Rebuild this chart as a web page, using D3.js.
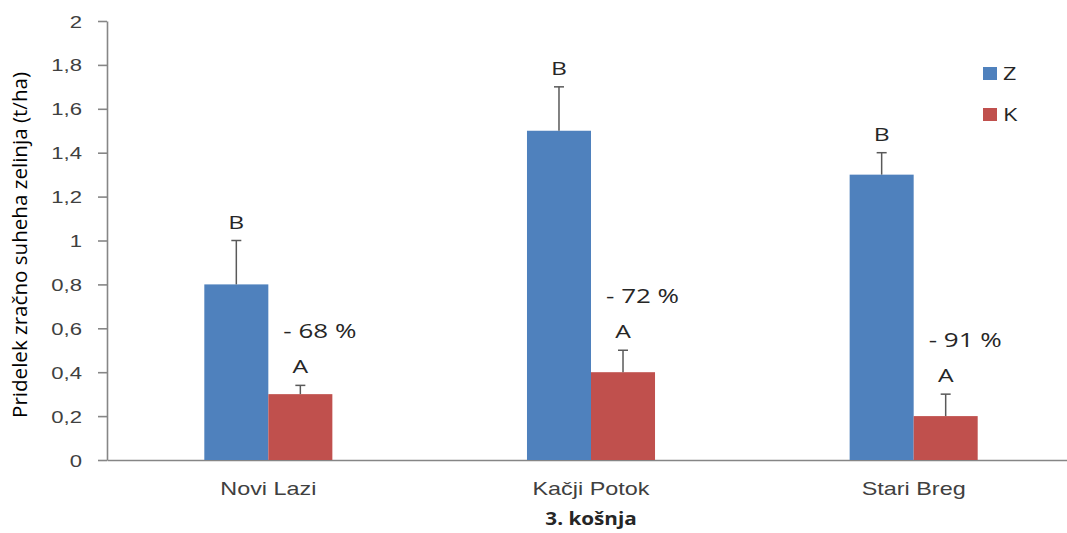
<!DOCTYPE html>
<html>
<head>
<meta charset="utf-8">
<script src="https://cdn.jsdelivr.net/npm/d3@7/dist/d3.min.js"></script>
<style>
  html, body { margin: 0; padding: 0; background: #fff; }
  svg { display: block; font-family: "Open Sans", "Liberation Sans", sans-serif; }
</style>
</head>
<body>
<svg id="chart" width="1067" height="533"></svg>
<script>
// Dry matter yield, 3rd cut, per location
const categories = ["Novi Lazi", "Kačji Potok", "Stari Breg"];
const seriesNames = ["Z", "K"];
const valuesZ = [0.8, 1.5, 1.3];
const valuesK = [0.3, 0.4, 0.2];
const errorsZ = [0.2, 0.2, 0.1];
const errorsK = [0.04, 0.1, 0.1];
const lettersZ = ["B", "B", "B"];
const lettersK = ["A", "A", "A"];
const reductionLabels = ["- 68 %", "- 72 %", "- 91 %"];
const yTicks = [0, 0.2, 0.4, 0.6, 0.8, 1, 1.2, 1.4, 1.6, 1.8, 2];
const colors = { Z: "#4F81BD", K: "#C0504D" };

// Text is drawn slightly widened (horizontal stretch) to get the wide look of the labels
const SX = 1.3;

const svg = d3.select("#chart");
const plot = { left: 107, right: 1075, top: 21, bottom: 460 };

const y = d3.scaleLinear().domain([0, 2]).range([plot.bottom, plot.top]);
const x0 = d3.scaleBand().domain(categories).range([plot.left, plot.right]).padding(0);
const x1 = d3.scaleBand().domain(seriesNames).range([0, x0.bandwidth()])
  .paddingInner(0).paddingOuter(1.52);

const fmt = d => String(d).replace(".", ",");

// helper: stretched text with its anchor at (x, y)
function label(parent, x, yy, txt, opts = {}) {
  return parent.append("text")
    .attr("transform", `translate(${x},${yy}) scale(${opts.sx || SX},1)`)
    .attr("text-anchor", opts.anchor || "middle")
    .attr("fill", opts.fill || "#262626")
    .style("font-size", (opts.size || 18) + "px")
    .style("font-weight", opts.weight || "normal")
    .text(txt);
}

// Y axis
const yAxis = svg.append("g")
  .attr("transform", `translate(${plot.left},0)`)
  .call(d3.axisLeft(y).tickValues(yTicks).tickFormat(fmt).tickSize(9).tickSizeOuter(0));
yAxis.select(".domain").attr("stroke", "#868686").attr("stroke-width", 1.6);
yAxis.selectAll(".tick line").attr("stroke", "#868686").attr("stroke-width", 1.6);
yAxis.selectAll(".tick text")
  .attr("x", null).attr("dy", null)
  .attr("transform", "translate(-25,6) scale(" + SX + ",1)")
  .attr("fill", "#404040").style("font-size", "17px");

// X axis
const xAxis = svg.append("g")
  .attr("transform", `translate(0,${plot.bottom})`)
  .call(d3.axisBottom(x0).tickSize(0).tickSizeOuter(0));
xAxis.select(".domain").attr("stroke", "#868686").attr("stroke-width", 1.6);
xAxis.selectAll(".tick text")
  .attr("y", null).attr("dy", null)
  .attr("transform", "translate(0,35) scale(" + SX + ",1)")
  .attr("fill", "#404040").style("font-size", "18px");

// Bars
const rows = categories.map((c, i) => ({
  cat: c,
  items: [
    { s: "Z", v: valuesZ[i], e: errorsZ[i], letter: lettersZ[i] },
    { s: "K", v: valuesK[i], e: errorsK[i], letter: lettersK[i] }
  ],
  reduction: reductionLabels[i]
}));

const groups = svg.append("g").selectAll("g").data(rows).join("g")
  .attr("transform", d => `translate(${x0(d.cat)},0)`);

groups.selectAll("rect").data(d => d.items).join("rect")
  .attr("x", d => x1(d.s))
  .attr("width", x1.bandwidth())
  .attr("y", d => y(d.v))
  .attr("height", d => y(0) - y(d.v))
  .attr("fill", d => colors[d.s]);

// Error bars (upper only)
const cx = d => x1(d.s) + x1.bandwidth() / 2;
const err = groups.selectAll("g.err").data(d => d.items).join("g").attr("class", "err");
err.append("line")
  .attr("x1", cx).attr("x2", cx)
  .attr("y1", d => y(d.v))
  .attr("y2", d => y(d.v + d.e))
  .attr("stroke", "#595959").attr("stroke-width", 1.5);
err.append("line")
  .attr("x1", d => cx(d) - 5)
  .attr("x2", d => cx(d) + 5)
  .attr("y1", d => y(d.v + d.e))
  .attr("y2", d => y(d.v + d.e))
  .attr("stroke", "#595959").attr("stroke-width", 1.5);

// Significance letters and reduction percentages
groups.each(function(d) {
  const g = d3.select(this);
  d.items.forEach(it => {
    label(g, cx(it), y(it.v + it.e) - 12, it.letter, { size: 19 });
  });
  const k = d.items[1];
  label(g, cx(k) - 17, y(k.v + k.e) - 47, d.reduction, { size: 20, anchor: "start" });
});

// Axis titles
svg.append("text")
  .attr("transform", `translate(27,245) scale(${SX},1) rotate(-90)`)
  .attr("text-anchor", "middle")
  .attr("fill", "#000")
  .attr("textLength", 346)
  .attr("lengthAdjust", "spacingAndGlyphs")
  .style("font-size", "16px")
  .text("Pridelek zračno suheha zelinja (t/ha)");

label(svg, x0("Kačji Potok") + x0.bandwidth() / 2, 525, "3. košnja",
  { size: 18, weight: "bold", sx: 1.15 });

// Legend
const legend = svg.append("g").selectAll("g").data(seriesNames).join("g")
  .attr("transform", (d, i) => `translate(983,${67 + i * 41})`);
legend.append("rect").attr("width", 14).attr("height", 13).attr("fill", d => colors[d]);
legend.each(function(d) {
  label(d3.select(this), 20, 13, d, { size: 18, anchor: "start" });
});
</script>
</body>
</html>
